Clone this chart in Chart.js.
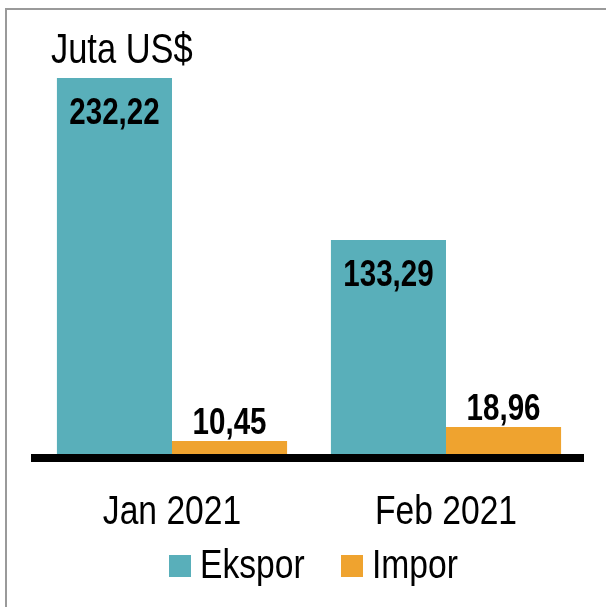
<!DOCTYPE html>
<html>
<head>
<meta charset="utf-8">
<script src="https://cdn.jsdelivr.net/npm/chart.js@4.4.1/dist/chart.umd.min.js"></script>
<style>
  html, body { margin: 0; padding: 0; background: #ffffff; }
  #wrap { position: relative; width: 606px; height: 607px; overflow: hidden; }
  #frame {
    position: absolute; left: 5px; top: 8px; width: 640px; height: 640px;
    border-top: 2px solid #9a9a9a; border-left: 2px solid #9a9a9a;
    pointer-events: none;
  }
</style>
</head>
<body>
<div id="wrap">
  <canvas id="tradeChart" width="606" height="607"></canvas>
  <div id="frame"></div>
</div>
<script>
// Data
const categories = ['Jan 2021', 'Feb 2021'];
const eksporValues = [232.22, 133.29];
const imporValues = [10.45, 18.96];
const seriesNames = ['Ekspor', 'Impor'];
const seriesColors = ['#59afba', '#efa32f'];

// Liberation Sans squeezed sideways to look like Arial Narrow
const FONT = "'Liberation Sans', Arial, sans-serif";
const NARROW = 0.82;

function formatValue(v) {
  return v.toFixed(2).replace('.', ',');
}

function narrowText(ctx, text, x, y, align, font) {
  ctx.save();
  ctx.font = font;
  ctx.textAlign = align;
  ctx.textBaseline = 'alphabetic';
  ctx.translate(x, y);
  ctx.scale(NARROW, 1);
  ctx.fillText(text, 0, 0);
  ctx.restore();
}

// Unit label, value labels, category labels and legend
const textLayer = {
  id: 'textLayer',
  afterDraw(chart) {
    const ctx = chart.ctx;
    const area = chart.chartArea;
    const xScale = chart.scales.x;
    ctx.save();
    ctx.fillStyle = '#000000';

    // unit
    narrowText(ctx, 'Juta US$', area.left + 16, 63, 'left', '42px ' + FONT);

    // values on bars
    chart.data.datasets.forEach((ds, i) => {
      const meta = chart.getDatasetMeta(i);
      meta.data.forEach((bar, j) => {
        const text = formatValue(ds.data[j]);
        const y = i === 0 ? bar.y + 46 : bar.y - 7;
        narrowText(ctx, text, bar.x, y, 'center', 'bold 36px ' + FONT);
      });
    });

    // category labels
    chart.data.labels.forEach((lab, i) => {
      narrowText(ctx, lab, xScale.getPixelForTick(i), area.bottom + 66, 'center', '41px ' + FONT);
    });

    // legend
    const legendY = area.bottom + 120;
    const legendX = [169, 341];
    chart.data.datasets.forEach((ds, i) => {
      ctx.fillStyle = ds.backgroundColor;
      ctx.fillRect(legendX[i], legendY - 23, 22, 22);
      ctx.fillStyle = '#000000';
      narrowText(ctx, ds.label, legendX[i] + 31, legendY, 'left', '41px ' + FONT);
    });
    ctx.restore();
  }
};

const ctx = document.getElementById('tradeChart').getContext('2d');
new Chart(ctx, {
  type: 'bar',
  data: {
    labels: categories,
    datasets: [{
      label: seriesNames[0],
      data: eksporValues,
      backgroundColor: seriesColors[0],
      borderWidth: 0,
      barPercentage: 1.0,
      categoryPercentage: 0.84
    }, {
      label: seriesNames[1],
      data: imporValues,
      backgroundColor: seriesColors[1],
      borderWidth: 0,
      barPercentage: 1.0,
      categoryPercentage: 0.84
    }]
  },
  options: {
    responsive: false,
    animation: false,
    layout: {
      padding: { left: 35, right: 23, top: 49, bottom: 141 }
    },
    scales: {
      y: {
        display: false,
        min: 0,
        max: 250
      },
      x: {
        grid: { display: false },
        border: { display: true, color: '#000000', width: 8, z: 1 },
        ticks: { display: false }
      }
    },
    plugins: {
      legend: { display: false },
      tooltip: { enabled: false }
    }
  },
  plugins: [textLayer]
});
</script>
</body>
</html>
